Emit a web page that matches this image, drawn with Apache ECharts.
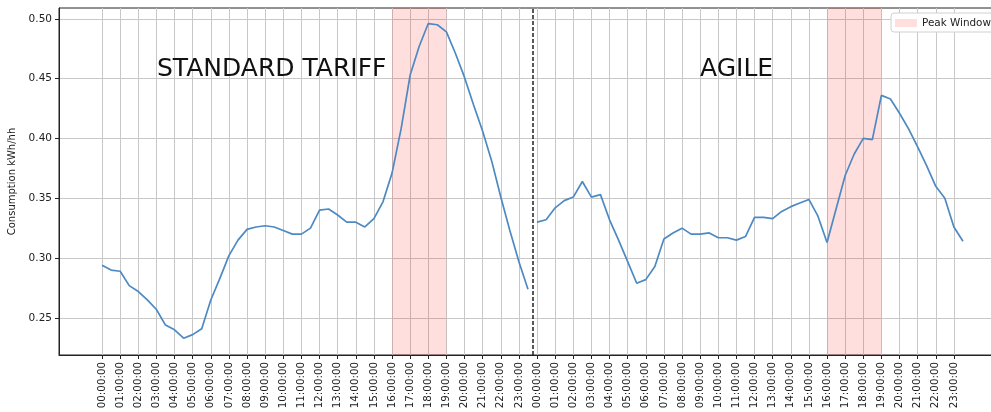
<!DOCTYPE html>
<html>
<head>
<meta charset="utf-8">
<script src="https://cdn.jsdelivr.net/npm/echarts@6/dist/echarts.min.js"></script>
<style>
html,body{margin:0;padding:0;background:#fff;}
#chart{width:991px;height:412px;}
</style>
</head>
<body>
<div id="chart"></div>
<script>
// Hour tick labels (each day, every hour)
const hourLabels = ['00:00:00','01:00:00','02:00:00','03:00:00','04:00:00','05:00:00','06:00:00','07:00:00','08:00:00','09:00:00','10:00:00','11:00:00','12:00:00','13:00:00','14:00:00','15:00:00','16:00:00','17:00:00','18:00:00','19:00:00','20:00:00','21:00:00','22:00:00','23:00:00'];
// Half-hourly consumption (kWh/hh), 48 slots per day
const standardTariff = [0.294,0.290,0.289,0.277,0.272,0.265,0.257,0.244,0.240,0.233,0.236,0.241,0.265,0.283,0.302,0.315,0.324,0.326,0.327,0.326,0.323,0.320,0.320,0.325,0.340,0.341,0.336,0.330,0.330,0.326,0.333,0.347,0.371,0.408,0.453,0.477,0.496,0.495,0.489,0.471,0.451,0.428,0.406,0.381,0.351,0.323,0.297,0.274];
const agile = [0.330,0.332,0.342,0.348,0.351,0.364,0.351,0.353,0.332,0.315,0.297,0.279,0.282,0.293,0.316,0.321,0.325,0.320,0.320,0.321,0.317,0.317,0.315,0.318,0.334,0.334,0.333,0.339,0.343,0.346,0.349,0.335,0.313,0.341,0.369,0.387,0.400,0.399,0.436,0.433,0.421,0.408,0.393,0.377,0.360,0.350,0.326,0.314];
const panelTitles = ['STANDARD TARIFF', 'AGILE'];
const peakStart = '16:00:00', peakEnd = '19:00:00';
const yTicks = [0.25, 0.30, 0.35, 0.40, 0.45, 0.50];

const slotsPerDay = standardTariff.length;
const hourIdx = h => hourLabels.indexOf(h) * 2;
const stdData = standardTariff.map((v, i) => [i, v]);
const agileData = agile.map((v, i) => [slotsPerDay + i, v]);
const xTicks = [];
for (let d = 0; d < 2; d++) for (let h = 0; h < hourLabels.length; h++) xTicks.push(d * slotsPerDay + h * 2);
const peakAreas = [0, 1].map(d => [
  { xAxis: d * slotsPerDay + hourIdx(peakStart) },
  { xAxis: d * slotsPerDay + hourIdx(peakEnd) }
]);

const FONT = 'DejaVu Sans';
const lineColor = '#4d89c3';
const chart = echarts.init(document.getElementById('chart'));
chart.setOption({
  animation: false,
  textStyle: { fontFamily: FONT },
  grid: {
    left: 59, top: 8, bottom: 57, right: -15,
    outerBoundsMode: 'none',
    show: true, borderColor: '#222', borderWidth: 1, backgroundColor: 'transparent'
  },
  legend: {
    data: [{ name: 'Peak Window', icon: 'rect' }],
    left: 891, top: 13,
    itemWidth: 22, itemHeight: 8,
    padding: [5, 4, 4, 4],
    borderColor: '#d0d0d0', borderWidth: 1, borderRadius: 3,
    backgroundColor: '#fff',
    selectedMode: false,
    textStyle: { fontFamily: FONT, fontSize: 10.4, color: '#222' }
  },
  xAxis: {
    type: 'value', min: -4.75, max: 99.75,
    axisLine: { show: true, onZero: false, lineStyle: { color: '#222', width: 1 } },
    axisTick: { show: true, length: 4, lineStyle: { color: '#222' }, customValues: xTicks },
    axisLabel: {
      customValues: xTicks, rotate: 90, margin: 7,
      fontFamily: FONT, fontSize: 10.3, color: '#222',
      formatter: v => hourLabels[Math.round(v / 2) % hourLabels.length]
    },
    splitLine: { show: true, lineStyle: { color: '#c8c8c8', width: 1 } }
  },
  yAxis: {
    type: 'value', min: 0.219, max: 0.509,
    name: 'Consumption kWh/hh', nameLocation: 'middle', nameGap: 42,
    nameTextStyle: { fontFamily: FONT, fontSize: 10, color: '#222' },
    axisLine: { show: true, onZero: false, lineStyle: { color: '#222', width: 1 } },
    axisTick: { show: true, length: 4, lineStyle: { color: '#222' }, customValues: yTicks },
    axisLabel: {
      customValues: yTicks, margin: 7,
      fontFamily: FONT, fontSize: 10.5, color: '#222',
      formatter: v => v.toFixed(2)
    },
    splitLine: { show: true, lineStyle: { color: '#c8c8c8', width: 1 } }
  },
  graphic: [
    { type: 'text', left: 157, top: 57, z: 100, style: { text: panelTitles[0], fontFamily: FONT, fontSize: 25, fill: '#111' } },
    { type: 'text', left: 700, top: 57, z: 100, style: { text: panelTitles[1], fontFamily: FONT, fontSize: 25, fill: '#111' } }
  ],
  series: [
    {
      name: 'Peak Window', type: 'line', data: [],
      itemStyle: { color: 'rgba(255,0,0,0.13)' },
      lineStyle: { color: 'rgba(255,0,0,0.13)' }
    },
    {
      name: 'Standard', type: 'line', data: stdData, showSymbol: false, smooth: false,
      lineStyle: { color: lineColor, width: 1.7 }, itemStyle: { color: lineColor }, z: 3,
      markArea: {
        silent: true,
        itemStyle: { color: 'rgba(255,0,0,0.13)' },
        data: peakAreas
      },
      markLine: {
        silent: true, symbol: 'none', label: { show: false },
        lineStyle: { color: '#222', type: [4, 2], width: 1.5 },
        data: [{ xAxis: slotsPerDay - 0.5 }]
      }
    },
    {
      name: 'Agile', type: 'line', data: agileData, showSymbol: false,
      lineStyle: { color: lineColor, width: 1.7 }, itemStyle: { color: lineColor }, z: 3
    }
  ]
});
</script>
</body>
</html>
